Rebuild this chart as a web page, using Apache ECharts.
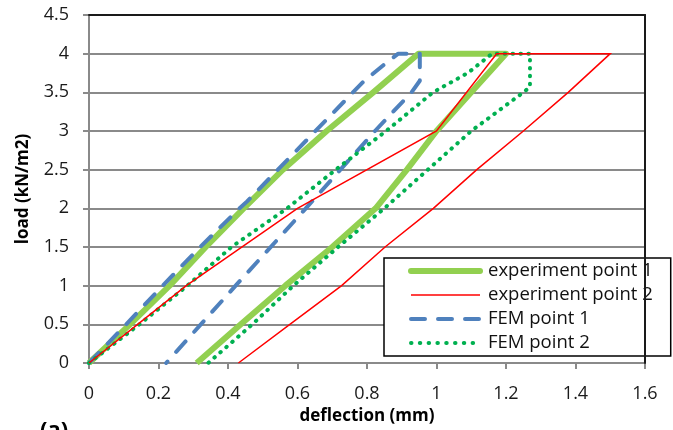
<!DOCTYPE html>
<html>
<head>
<meta charset="utf-8">
<script src="https://cdn.jsdelivr.net/npm/echarts@6/dist/echarts.min.js"></script>
<style>
html,body{margin:0;padding:0;background:#fff;}
#chart{width:673px;height:430px;}
</style>
</head>
<body>
<div id="chart"></div>
<script>
// ---- data (deflection mm, load kN/m2) ----
const seriesNames = ['experiment point 1', 'experiment point 2', 'FEM point 1', 'FEM point 2'];

const exp1Deflection = [0, 0.118, 0.232, 0.336, 0.445, 0.558, 0.684, 0.818, 0.948, 1.2, 1.1, 1.0, 0.915, 0.825, 0.70, 0.565, 0.437, 0.31];
const exp1Load       = [0, 0.5, 1, 1.5, 2, 2.5, 3, 3.5, 4, 4, 3.5, 3, 2.5, 2, 1.5, 1, 0.5, 0];

const exp2Deflection = [0, 0.14, 0.28, 0.6, 1.0, 1.173, 1.5, 1.379, 1.25, 1.116, 0.991, 0.852, 0.727, 0.578, 0.43];
const exp2Load       = [0, 0.5, 1, 2, 3, 4, 4, 3.5, 3, 2.5, 2, 1.5, 1, 0.5, 0];

const fem1Deflection = [0, 0.107, 0.212, 0.32, 0.433, 0.455, 0.79, 0.847, 0.89, 0.952, 0.952, 0.928, 0.823, 0.624, 0.422, 0.222];
const fem1Load       = [0, 0.5, 1, 1.5, 2, 2.09, 3.64, 3.85, 4, 4, 3.65, 3.5, 3, 2, 1, 0];

const fem2Deflection = [0, 0.145, 0.283, 0.41, 0.57, 0.71, 0.855, 0.99, 1.09, 1.16, 1.269, 1.269, 1.25, 1.1, 0.975, 0.85, 0.717, 0.588, 0.47, 0.343];
const fem2Load       = [0, 0.5, 1, 1.5, 2, 2.5, 3, 3.5, 3.75, 4, 4, 3.57, 3.5, 3, 2.5, 2, 1.5, 1, 0.5, 0];

const xTicks = [0, 0.2, 0.4, 0.6, 0.8, 1, 1.2, 1.4, 1.6];
const yTicks = [0, 0.5, 1, 1.5, 2, 2.5, 3, 3.5, 4, 4.5];

const xTitle = 'deflection (mm)';
const yTitle = 'load (kN/m2)';
const panelLabel = '(a)';

function pairs(xs, ys) { return xs.map((x, i) => [x, ys[i]]); }

const FONT = "'Open Sans', 'Liberation Sans', sans-serif";
const GRID_GRAY = '#8a8a8a';

const styles = [
  { color: '#92D050', width: 6, type: 'solid', cap: 'butt', join: 'round' },
  { color: '#FF0000', width: 1.5, type: 'solid', cap: 'butt', join: 'miter' },
  { color: '#4F81BD', width: 4, type: [14, 13], cap: 'round', join: 'round' },
  { color: '#00B050', width: 4, type: [0.5, 7.4], cap: 'round', join: 'round' }
];
const legendStyles = [
  { color: '#92D050', width: 6, type: 'solid', cap: 'round' },
  { color: '#FF0000', width: 1.5, type: 'solid', cap: 'butt' },
  { color: '#4F81BD', width: 4, type: [14, 13], cap: 'round' },
  { color: '#00B050', width: 4, type: [0.5, 8.3], cap: 'round' }
];

const chart = echarts.init(document.getElementById('chart'), null, { renderer: 'canvas' });

const option = {
  animation: false,
  backgroundColor: '#ffffff',
  textStyle: { fontFamily: FONT },
  grid: { left: 89, right: 28, top: 15, bottom: 67, containLabel: false, outerBoundsMode: 'none' },
  xAxis: [
    {
      type: 'value', min: xTicks[0], max: xTicks[xTicks.length - 1], interval: xTicks[1] - xTicks[0],
      position: 'bottom',
      name: xTitle, nameLocation: 'middle', nameGap: 42,
      nameTextStyle: { fontFamily: FONT, fontWeight: 'bold', fontSize: 17, color: '#000' },
      axisLine: { show: true, lineStyle: { color: GRID_GRAY, width: 2 } },
      axisTick: { show: true, inside: false, length: 6, lineStyle: { color: GRID_GRAY, width: 2 } },
      axisLabel: { fontFamily: FONT, fontSize: 18, color: '#1a1a1a', margin: 22 },
      splitLine: { show: false }
    },
    {
      type: 'value', min: xTicks[0], max: xTicks[xTicks.length - 1], position: 'top', z: 5,
      axisLine: { show: true, onZero: false, lineStyle: { color: '#1a1a1a', width: 2 } },
      axisTick: { show: false }, axisLabel: { show: false }, splitLine: { show: false }
    }
  ],
  yAxis: [
    {
      type: 'value', min: yTicks[0], max: yTicks[yTicks.length - 1], interval: yTicks[1] - yTicks[0],
      position: 'left',
      name: yTitle, nameLocation: 'middle', nameGap: 57, nameRotate: 90,
      nameTextStyle: { fontFamily: FONT, fontWeight: 'bold', fontSize: 17, color: '#000' },
      axisLine: { show: true, lineStyle: { color: GRID_GRAY, width: 2 } },
      axisTick: { show: true, inside: false, length: 6, lineStyle: { color: GRID_GRAY, width: 2 } },
      axisLabel: { fontFamily: FONT, fontSize: 18, color: '#1a1a1a', margin: 20 },
      splitLine: { show: true, lineStyle: { color: GRID_GRAY, width: 2 } }
    },
    {
      type: 'value', min: yTicks[0], max: yTicks[yTicks.length - 1], position: 'right', z: 5,
      axisLine: { show: true, onZero: false, lineStyle: { color: '#1a1a1a', width: 2 } },
      axisTick: { show: false }, axisLabel: { show: false }, splitLine: { show: false }
    }
  ],
  legend: {
    orient: 'vertical',
    left: 384, top: 258,
    padding: [1, 18, 1, 24],
    itemGap: 0,
    itemWidth: 69, itemHeight: 14,
    backgroundColor: '#ffffff',
    borderColor: '#000000', borderWidth: 1.5,
    textStyle: { fontFamily: FONT, fontSize: 18.5, color: '#111', lineHeight: 24, padding: [0, 0, 0, 3] },
    data: seriesNames.map((n, i) => ({
      name: n,
      itemStyle: { opacity: 0 },
      lineStyle: legendStyles[i]
    }))
  },
  graphic: [
    { type: 'text', left: 40, top: 420, style: { text: panelLabel, font: "bold 22px 'Open Sans', sans-serif", fill: '#000' } }
  ],
  series: [
    {
      name: seriesNames[0], type: 'line', xAxisIndex: 0, yAxisIndex: 0,
      data: pairs(exp1Deflection, exp1Load), symbol: 'none', z: 2,
      lineStyle: styles[0], itemStyle: { color: styles[0].color }
    },
    {
      name: seriesNames[1], type: 'line', xAxisIndex: 0, yAxisIndex: 0,
      data: pairs(exp2Deflection, exp2Load), symbol: 'none', z: 4,
      lineStyle: styles[1], itemStyle: { color: styles[1].color }
    },
    {
      name: seriesNames[2], type: 'line', xAxisIndex: 0, yAxisIndex: 0,
      data: pairs(fem1Deflection, fem1Load), symbol: 'none', z: 3,
      lineStyle: styles[2], itemStyle: { color: styles[2].color }
    },
    {
      name: seriesNames[3], type: 'line', xAxisIndex: 0, yAxisIndex: 0,
      data: pairs(fem2Deflection, fem2Load), symbol: 'none', z: 3,
      lineStyle: styles[3], itemStyle: { color: styles[3].color }
    }
  ]
};

chart.setOption(option);
</script>
</body>
</html>
